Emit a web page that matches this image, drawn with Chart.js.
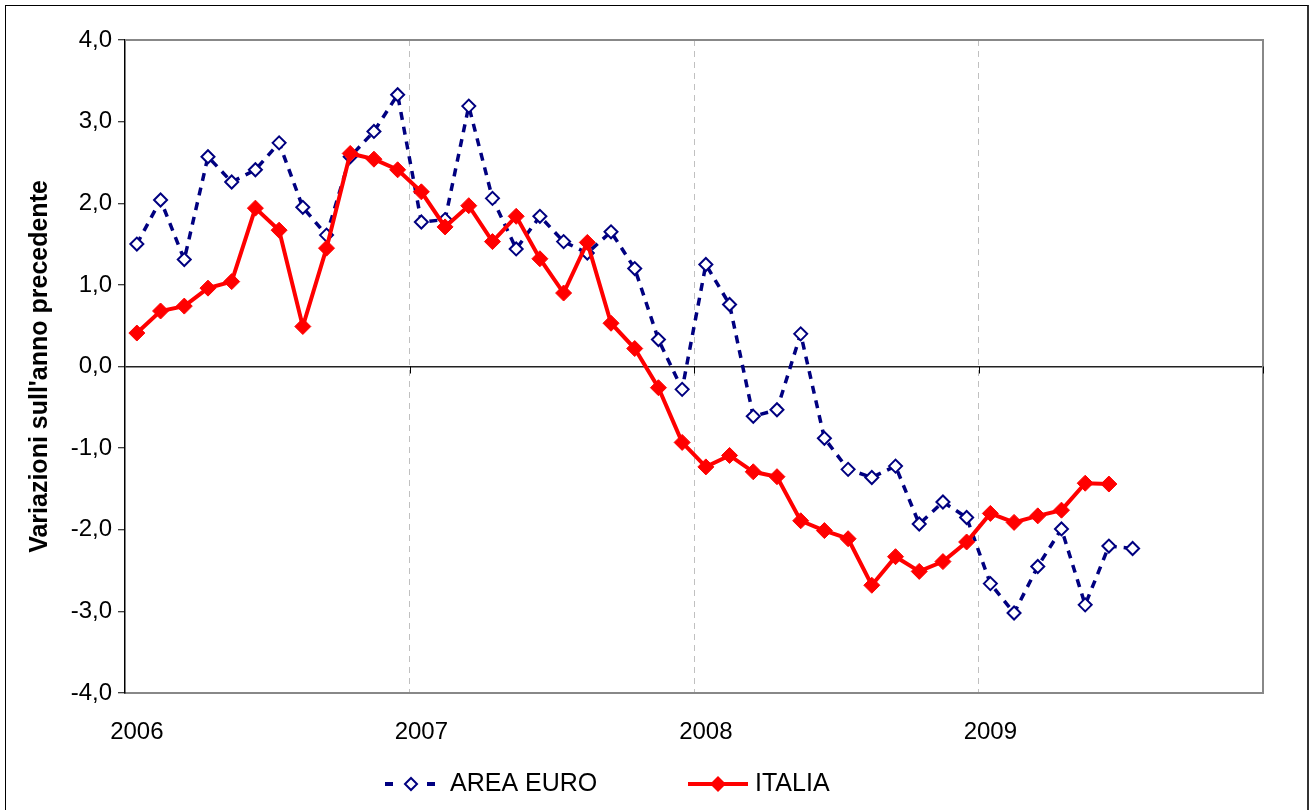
<!DOCTYPE html>
<html>
<head>
<meta charset="utf-8">
<script src="https://cdn.jsdelivr.net/npm/chart.js@4.4.1/dist/chart.umd.min.js"></script>
<style>
  html, body { margin: 0; padding: 0; background: #fff; }
  #wrap { position: relative; width: 1311px; height: 810px; overflow: hidden; }
  #cornice { position: absolute; left: 5px; top: 5px; width: 1301px; height: 900px;
             border: 1px solid #000; border-right: 2px solid #333; pointer-events: none; }
</style>
</head>
<body>
<div id="wrap">
  <canvas id="grafico" width="1311" height="810"></canvas>
  <div id="cornice"></div>
</div>
<script>
  // anni e mesi (categorie dell'asse x)
  const anni = ["2006", "2007", "2008", "2009"];
  const mesi = ["gen", "feb", "mar", "apr", "mag", "giu", "lug", "ago", "set", "ott", "nov", "dic"];

  // variazioni sull'anno precedente
  const areaEuro = [
    1.50, 2.04, 1.31, 2.57, 2.26, 2.41, 2.74, 1.95, 1.61, 2.57, 2.88, 3.33,
    1.77, 1.80, 3.19, 2.06, 1.44, 1.84, 1.53, 1.39, 1.65, 1.20, 0.33, -0.28,
    1.25, 0.76, -0.61, -0.53, 0.40, -0.88, -1.26, -1.36, -1.22, -1.93, -1.66, -1.85,
    -2.66, -3.02, -2.45, -1.99, -2.92, -2.20, -2.23
  ];
  const italia = [
    0.41, 0.68, 0.74, 0.96, 1.04, 1.94, 1.67, 0.49, 1.45, 2.61, 2.54, 2.41,
    2.14, 1.71, 1.97, 1.53, 1.84, 1.32, 0.90, 1.52, 0.53, 0.22, -0.26, -0.93,
    -1.23, -1.09, -1.29, -1.35, -1.89, -2.01, -2.11, -2.68, -2.33, -2.51, -2.39, -2.15,
    -1.80, -1.91, -1.83, -1.76, -1.43, -1.44
  ];

  const etichette = [];
  anni.forEach(a => mesi.forEach(m => etichette.push(m + " " + a)));

  const BLU = "#000080";
  const ROSSO = "#ff0000";
  const FONT = "'Liberation Sans', Arial, sans-serif";

  function rombo(ctx, x, y, r) {
    ctx.beginPath();
    ctx.moveTo(x - r, y);
    ctx.lineTo(x, y - r);
    ctx.lineTo(x + r, y);
    ctx.lineTo(x, y + r);
    ctx.closePath();
  }

  // cornice grigia dell'area del grafico + tacche sull'asse dello zero
  const cornice = {
    id: "cornice",
    beforeDatasetsDraw(chart) {
      const { ctx, chartArea: a, scales: { x, y } } = chart;
      ctx.save();
      ctx.strokeStyle = "#888";
      ctx.lineWidth = 2;
      ctx.beginPath();
      ctx.moveTo(a.left, a.top);
      ctx.lineTo(a.right, a.top);
      ctx.lineTo(a.right, a.bottom);
      ctx.stroke();
      const y0 = y.getPixelForValue(0);
      const passo = x.getPixelForValue(1) - x.getPixelForValue(0);
      ctx.strokeStyle = "#000";
      ctx.lineWidth = 1;
      for (let i = 12; i <= etichette.length; i += 12) {
        const px = Math.round(x.getPixelForValue(i) - passo / 2) + 0.5;
        ctx.beginPath();
        ctx.moveTo(px, y0);
        ctx.lineTo(px, y0 + 7);
        ctx.stroke();
      }
      ctx.restore();
    }
  };

  // legenda in basso
  const legenda = {
    id: "legenda",
    afterDraw(chart) {
      const ctx = chart.ctx;
      const ly = 784;
      ctx.save();
      // AREA EURO
      ctx.fillStyle = BLU;
      ctx.fillRect(385, ly - 2, 8, 4);
      ctx.fillRect(427, ly - 2, 8, 4);
      rombo(ctx, 411, ly, 6);
      ctx.fillStyle = "#fff";
      ctx.fill();
      ctx.strokeStyle = BLU;
      ctx.lineWidth = 2;
      ctx.stroke();
      // ITALIA
      ctx.strokeStyle = ROSSO;
      ctx.lineWidth = 4;
      ctx.beginPath();
      ctx.moveTo(688, ly);
      ctx.lineTo(748, ly);
      ctx.stroke();
      rombo(ctx, 718, ly, 8);
      ctx.fillStyle = ROSSO;
      ctx.fill();
      // testi
      ctx.fillStyle = "#000";
      ctx.font = "25px " + FONT;
      ctx.textBaseline = "middle";
      ctx.textAlign = "left";
      ctx.fillText("AREA EURO", 450, ly);
      ctx.fillText("ITALIA", 755, ly);
      ctx.restore();
    }
  };

  const ctx = document.getElementById("grafico").getContext("2d");
  new Chart(ctx, {
    type: "line",
    data: {
      labels: etichette,
      datasets: [{
        label: "ITALIA",
        data: italia,
        borderColor: ROSSO,
        backgroundColor: ROSSO,
        borderWidth: 4,
        pointStyle: "rectRot",
        pointRadius: 8,
        pointBorderWidth: 1,
        pointBackgroundColor: ROSSO,
        pointBorderColor: ROSSO,
        tension: 0,
        order: 0
      }, {
        label: "AREA EURO",
        data: areaEuro,
        borderColor: BLU,
        backgroundColor: "#fff",
        borderWidth: 3.5,
        borderDash: [8, 7],
        pointStyle: "rectRot",
        pointRadius: 6.5,
        pointBorderWidth: 2,
        pointBackgroundColor: "#fff",
        pointBorderColor: BLU,
        tension: 0,
        order: 1
      }]
    },
    options: {
      responsive: false,
      animation: false,
      devicePixelRatio: 1,
      layout: { padding: { top: 40, right: 48, bottom: 0, left: 0 } },
      plugins: {
        legend: { display: false },
        tooltip: { enabled: false }
      },
      scales: {
        x: {
          type: "category",
          offset: true,
          afterFit: s => { s.height = 117; },
          grid: {
            offset: true,
            drawTicks: false,
            color: c => (c.index > 0 && c.index % 12 === 0) ? "#c0c0c0" : "rgba(0,0,0,0)",
            lineWidth: 1
          },
          border: { display: true, color: "#888", width: 2, dash: [6, 5] },
          ticks: {
            autoSkip: false,
            maxRotation: 0,
            padding: 25,
            color: "#000",
            font: { family: FONT, size: 24 },
            callback: (v, i) => i % 12 === 0 ? anni[i / 12] : ""
          }
        },
        y: {
          min: -4,
          max: 4,
          afterFit: s => { s.width = 125; },
          grid: {
            color: c => (c.tick && c.tick.value === 0) ? "#222" : "rgba(0,0,0,0)",
            lineWidth: 1.5,
            tickColor: "#000",
            tickLength: 7,
            tickWidth: 1
          },
          border: { display: true, color: "#000", width: 1.5 },
          ticks: {
            stepSize: 1,
            padding: 6,
            color: "#000",
            font: { family: FONT, size: 24 },
            callback: v => v.toFixed(1).replace(".", ",")
          },
          title: {
            display: true,
            text: "Variazioni sull'anno precedente",
            color: "#000",
            padding: { top: 25, bottom: 0 },
            font: { family: FONT, size: 25, weight: "bold" }
          }
        }
      }
    },
    plugins: [cornice, legenda]
  });
</script>
</body>
</html>
